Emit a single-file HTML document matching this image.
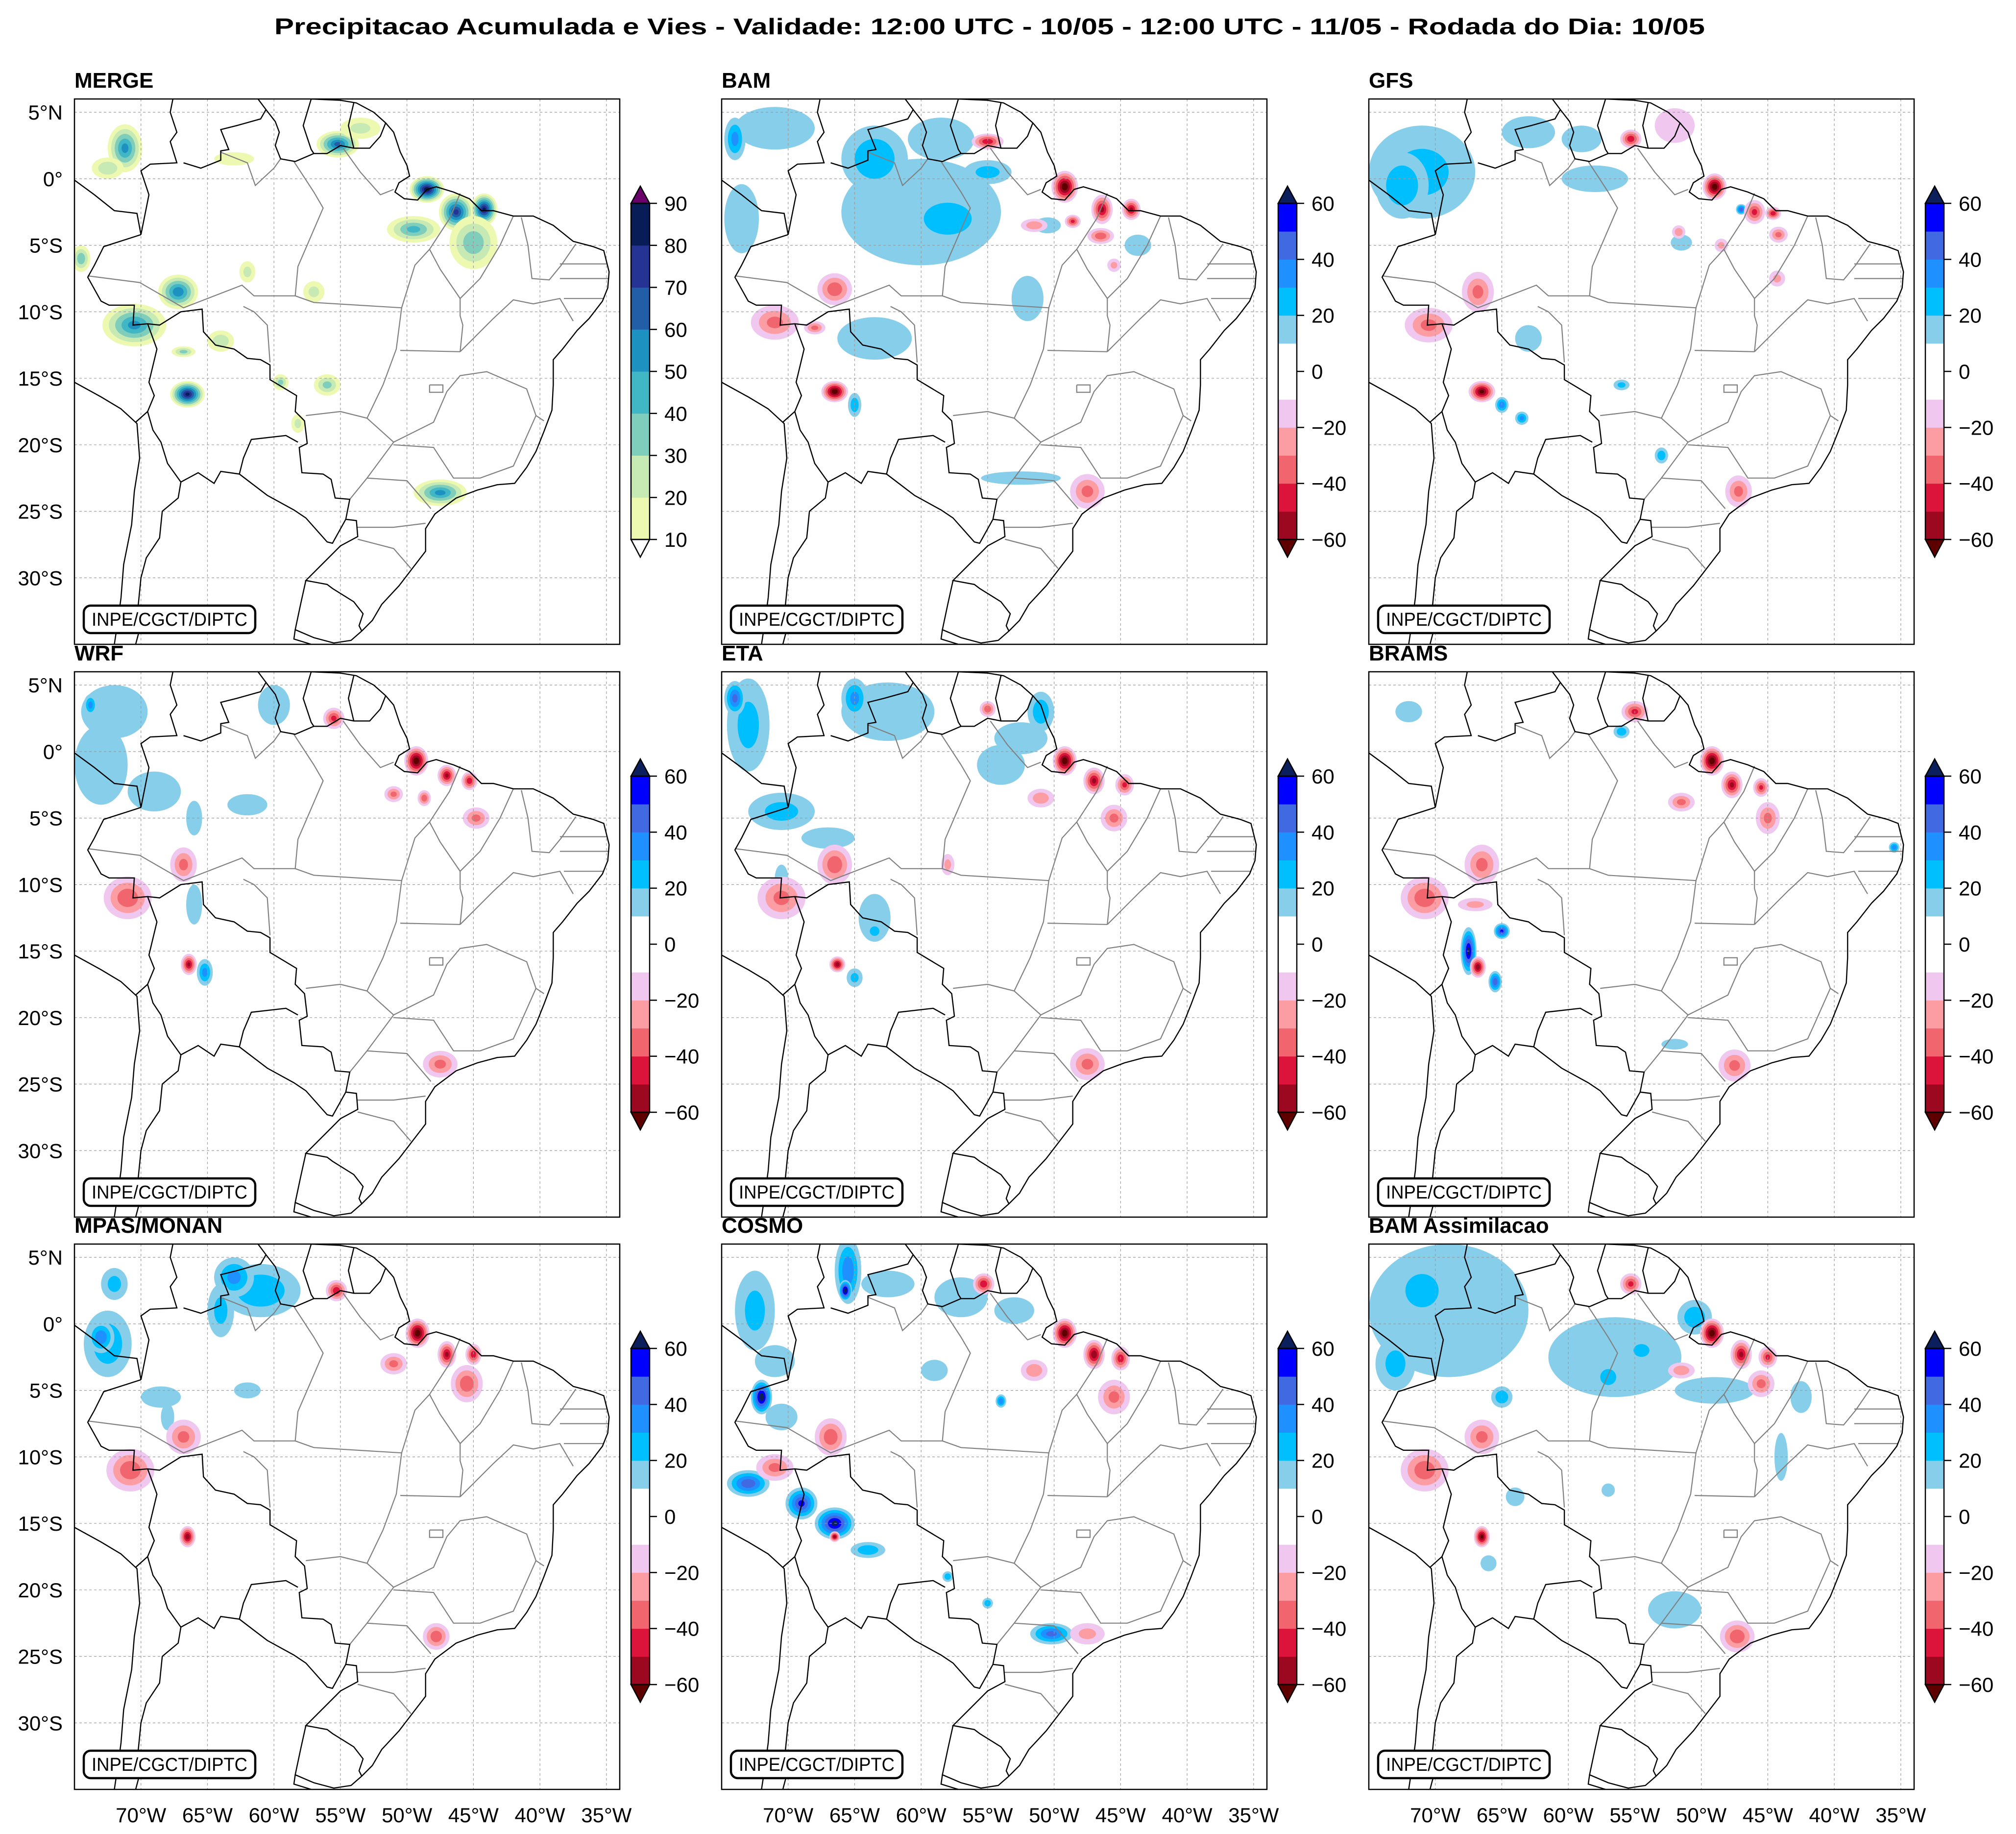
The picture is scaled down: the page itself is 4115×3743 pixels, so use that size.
<!DOCTYPE html>
<html><head><meta charset="utf-8"><style>
html,body{margin:0;padding:0;background:#fff;}
svg{display:block;font-family:"Liberation Sans",sans-serif;}
</style></head><body>
<svg id="fig" xmlns="http://www.w3.org/2000/svg" width="4115" height="3743" viewBox="0 0 4115 3743">
<rect width="4115" height="3743" fill="#fff"/>
<text x="560" y="70" font-size="46" font-weight="bold" textLength="2920" lengthAdjust="spacingAndGlyphs">Precipitacao Acumulada e Vies - Validade: 12:00 UTC - 10/05 - 12:00 UTC - 11/05 - Rodada do Dia: 10/05</text>
</svg>
<script>
// ---- data ----
const panelTitles = ["MERGE","BAM","GFS","WRF","ETA","BRAMS","MPAS/MONAN","COSMO","BAM Assimilacao"];
const lonTicks = [-70,-65,-60,-55,-50,-45,-40,-35];
const latTicks = [5,0,-5,-10,-15,-20,-25,-30];
const mergeLevels = [10,20,30,40,50,60,70,80,90];
const mergeColors = ["#edf8b1","#c7e9b4","#7fcdbb","#41b6c4","#1d91c0","#225ea8","#253494","#081d58"];
const biasTicks = [60,40,20,0,-20,-40,-60];
const biasLevels = [-60,-50,-40,-30,-20,-10,0,10,20,30,40,50,60];
const biasColors = ["#9b0820","#dc143c","#f0656e","#fc9da3","#efc7ef","#ffffff","#ffffff","#87ceeb","#00bfff","#1e90ff","#4169e1","#0000ff"];
const posColors = ["#87ceeb","#00bfff","#1e90ff","#4169e1","#0000ff","#0b1f5c"];
const negColors = ["#efc7ef","#fc9da3","#f0656e","#dc143c","#9b0820","#5f0000"];

// blobs: [lon, lat, rxDeg, ryDeg, value]
const mergeBlobs = [[-48.5,-0.8,1.3,1.0,85],[-46.3,-2.5,1.3,1.4,70],[-44.2,-2.3,1.0,1.2,80],[-45,-4.8,1.8,2.0,35],[-49.5,-3.8,2,1,40],[-55.2,2.6,1.6,1.0,60],[-53.5,3.8,1.5,0.8,20],[-71.2,2.3,1.3,1.8,50],[-72.5,0.8,1.2,0.8,25],[-70.5,-11,2.4,1.6,50],[-67.2,-8.5,1.5,1.3,55],[-74.5,-6,0.7,1,35],[-66.5,-16.2,1.3,1.0,80],[-47.5,-23.6,2,1.0,50],[-56,-15.5,1,0.8,30],[-59.5,-15.3,0.6,0.6,30],[-58.2,-18.4,0.5,0.7,20],[-62,-7,0.6,0.8,20],[-63,1.5,1.5,0.5,15],[-57,-8.5,0.8,0.8,20],[-64,-12.2,1,0.8,25],[-66.8,-13,0.9,0.4,30]];
const bamBlobs = [[-60,-2.5,6,4,15],[-58,-3,3,2,25],[-63.5,1.5,2.5,2.5,25],[-58.5,3,2.5,1.6,15],[-71,3.8,3,1.6,15],[-74,3,0.8,1.6,30],[-73.5,-3,1.3,2.6,15],[-63.5,-12,2.8,1.6,15],[-52,-9,1.2,1.7,15],[-52.5,-22.5,3,0.5,15],[-65,-17,0.5,0.9,25],[-55,0.5,1.8,0.9,20],[-50.5,-3.5,1,0.6,15],[-43.7,-5,1,0.8,15],
 [-55,2.8,1.2,0.6,-45],[-49.2,-0.6,1,1.2,-65],[-46.4,-2.3,0.8,1.1,-50],[-44.2,-2.3,0.7,0.8,-50],[-48.6,-3.2,0.6,0.5,-40],[-51.5,-3.5,1,0.5,-25],[-46.5,-4.3,1,0.6,-35],[-66.5,-16,1.0,0.8,-65],[-66.5,-8.3,1.3,1.2,-35],[-71,-10.8,1.8,1.3,-30],[-68,-11.2,0.8,0.5,-30],[-47.5,-23.5,1.3,1.3,-30],[-45.5,-6.5,0.5,0.5,-20]];
const gfsBlobs = [[-71,0.5,4,3.5,20],[-72.5,-0.5,2,2.5,25],[-63,3.5,2,1.2,15],[-59,3,1.5,1,15],[-58,0,2.5,1,15],[-65,-17,0.5,0.6,35],[-63.5,-18,0.5,0.5,30],[-63,-12,1,1,15],[-53,-20.8,0.5,0.6,25],[-56,-15.5,0.6,0.4,20],[-47,-2.3,0.4,0.4,45],[-51.5,-4.8,0.8,0.6,15],
 [-55.3,3,0.8,0.7,-45],[-49,-0.6,0.9,1,-65],[-46,-2.5,0.8,0.9,-40],[-44.6,-2.6,0.6,0.5,-45],[-44.2,-4.2,0.7,0.6,-30],[-66.5,-16,1,0.8,-60],[-66.8,-8.5,1.2,1.5,-30],[-70.5,-11,1.8,1.3,-30],[-47.2,-23.5,1,1.2,-30],[-48.5,-5,0.5,0.5,-20],[-51.7,-4,0.5,0.5,-25],[-44.3,-7.5,0.6,0.6,-20],[-52,4,1.5,1.3,-15]];
const wrfBlobs = [[-72,3,2.5,2,15],[-73,-1,2,3,15],[-69,-3,2,1.5,15],[-60,3.5,1.2,1.5,15],[-73.8,3.5,0.5,0.8,30],[-65.2,-16.6,0.6,1.0,30],[-66,-11.5,0.6,1.5,15],[-62,-4,1.5,0.8,15],[-66,-5,0.6,1.3,15],
 [-55.5,2.5,0.8,0.8,-40],[-49.3,-0.7,0.9,1.1,-65],[-47,-1.8,0.7,0.8,-50],[-45.3,-2.2,0.6,0.7,-45],[-51,-3.2,0.7,0.6,-30],[-44.8,-5,1,0.8,-30],[-66.8,-8.5,1,1.3,-30],[-71,-11,1.8,1.6,-35],[-66.4,-16,0.6,0.8,-50],[-47.5,-23.5,1.3,1.0,-30],[-48.7,-3.5,0.5,0.6,-35]];
const etaBlobs = [[-62.5,3,3.5,2.2,15],[-65,4,1,1.5,30],[-73,2,1.6,3.5,20],[-74,4,0.8,1.3,40],[-52.5,1,2,1.2,15],[-54,-1,1.8,1.5,15],[-51,3,1,1.5,25],[-70.5,-4.5,2.5,1.4,20],[-67,-6.5,2,0.8,15],[-63.5,-12.5,1.2,1.8,15],[-63.5,-13.5,0.6,0.6,25],[-65,-17,0.6,0.7,20],[-70.5,-9.5,0.5,1,15],
 [-55,3.2,0.6,0.6,-35],[-49.2,-0.7,0.9,1.1,-65],[-47,-2.2,0.8,1,-50],[-44.7,-2.5,0.7,0.8,-40],[-45.5,-5,1,1,-30],[-51,-3.5,1,0.7,-25],[-66.5,-8.5,1.3,1.5,-35],[-70.5,-11,1.8,1.6,-30],[-66.3,-16,0.6,0.6,-55],[-47.5,-23.5,1.3,1.2,-30],[-58,-8.5,0.5,0.8,-20]];
const bramsBlobs = [[-67.5,-15,0.6,1.8,60],[-65,-13.5,0.6,0.6,50],[-65.5,-17.3,0.5,0.8,45],[-47.4,-2.3,0.4,0.4,60],[-35.5,-7.2,0.4,0.4,35],[-56,1.5,0.6,0.5,25],[-72,3,1,0.8,15],[-52,-22,1,0.4,15],
 [-55,3,1,0.8,-40],[-49.2,-0.7,0.9,1.1,-65],[-47.7,-2.5,0.8,1,-50],[-45.5,-2.7,0.6,0.7,-40],[-45,-5,0.9,1.2,-30],[-51.5,-3.8,1,0.7,-30],[-66.5,-8.5,1.3,1.5,-30],[-70.8,-11,1.8,1.6,-35],[-66.8,-16.2,0.6,0.8,-55],[-47.5,-23.6,1.2,1.2,-30],[-67,-11.5,1.3,0.5,-20]];
const mpasBlobs = [[-61,2.5,3,2,25],[-63,3.5,1.5,1.5,30],[-64,1,1,2,20],[-72.5,-1.5,1.8,2.5,25],[-73,-1,1,1.2,35],[-68.5,-5.5,1.5,0.8,15],[-68,-7,0.5,1,15],[-62,-5,1,0.6,15],[-72,3,1,1.2,20],
 [-55.3,2.5,0.8,0.8,-45],[-49.2,-0.7,0.9,1.1,-65],[-47,-2.3,0.7,1.0,-50],[-45,-2.3,0.6,0.8,-45],[-45.5,-4.5,1.2,1.4,-35],[-51,-3,1,0.8,-30],[-66.8,-8.5,1.3,1.3,-30],[-70.8,-11,1.8,1.6,-35],[-66.5,-16,0.6,0.8,-55],[-47.8,-23.5,1,1.0,-35]];
const cosmoBlobs = [[-65.5,4,1,2.5,35],[-65.7,2.5,0.5,0.8,65],[-72.5,1,1.5,3,20],[-71,-2.8,1.5,1.2,15],[-72,-5.5,0.8,1.3,65],[-70.5,-7,1.2,1,15],[-73,-12,1.6,1,45],[-69,-13.5,1.2,1.2,50],[-66.5,-15,1.5,1.2,60],[-64,-17,1.3,0.6,25],[-58,-19,0.4,0.4,25],[-55,-21,0.4,0.4,25],[-50.2,-23.3,1.6,0.8,40],[-62.5,3,2,1,15],[-57,2,2,1.5,15],[-53,1,1.5,1,15],[-59,-3.5,1,0.8,15],[-54,-5.8,0.4,0.5,35],
 [-55.3,3,0.8,0.8,-45],[-49.2,-0.7,0.9,1.1,-65],[-47,-2.3,0.8,1.1,-55],[-45,-2.6,0.7,0.9,-45],[-45.5,-5.5,1.2,1.3,-30],[-51.5,-3.5,1,0.8,-25],[-66.8,-8.5,1.2,1.4,-35],[-71,-10.8,1.4,1,-30],[-66.5,-16,0.4,0.4,-55],[-47.5,-23.3,1.3,0.8,-20]];
const bamAssimBlobs = [[-69,1,6,5,15],[-71,2.5,2.5,2.5,20],[-73,-3,1.5,2,20],[-56.5,-2.5,5,3,15],[-57,-4,1,1,25],[-54.5,-2,1,0.8,25],[-50.5,0.5,1.3,1.3,25],[-49,-5,3,1,15],[-52,-21.5,2,1.4,15],[-42.5,-5.5,0.8,1.2,15],[-44,-10,0.5,1.8,15],[-65,-5.5,0.8,0.8,25],[-64,-13,0.7,0.7,15],[-66,-18,0.6,0.6,15],[-57,-12.5,0.5,0.5,15],
 [-55.3,3,0.8,0.8,-40],[-49.2,-0.7,0.9,1.1,-65],[-47,-2.3,0.8,1.1,-50],[-45,-2.5,0.7,0.8,-40],[-45.5,-4.5,1,1,-30],[-51.5,-3.5,1,0.6,-25],[-66.5,-8.5,1.3,1.3,-30],[-70.8,-11,1.8,1.6,-35],[-66.5,-16,0.6,0.8,-60],[-47.3,-23.5,1.3,1.2,-35]];
const panelBlobs = [mergeBlobs,bamBlobs,gfsBlobs,wrfBlobs,etaBlobs,bramsBlobs,mpasBlobs,cosmoBlobs,bamAssimBlobs];

// geography (lon,lat)
const coastLines = [
 [[-57.2,6],[-55,5.9],[-53.8,5.7],[-52.5,5],[-51.6,4.2],[-51,3.5],[-50.5,2],[-50,1],[-49.8,0.2],[-50.6,-0.3],[-50.9,-1],[-50.2,-1.5],[-49.2,-1.6],[-48.5,-0.8],[-47.8,-0.6],[-46.5,-1],[-45.3,-1.5],[-44.4,-2.4],[-43.5,-2.4],[-42,-2.8],[-40.5,-2.8],[-39,-3.5],[-37.5,-4.7],[-36,-5.1],[-35.2,-5.4],[-34.8,-7],[-34.9,-8.2],[-35.3,-9.2],[-36.3,-10.5],[-37.2,-11.4],[-38.3,-12.8],[-39,-13.6],[-39,-15.5],[-39.1,-17.4],[-39.7,-19],[-40.3,-20.5],[-41,-21.7],[-41.9,-22.9],[-43.2,-23],[-44.7,-23.4],[-46.3,-24],[-47.9,-25.2],[-48.6,-26.3],[-48.6,-28],[-49.6,-29.3],[-50.6,-30.6],[-51.9,-32],[-52.6,-33.2],[-53.4,-34],[-54.2,-34.7],[-55.5,-34.9],[-57,-34.5],[-58.4,-33.9],[-58.5,-34.6],[-57.2,-35]],
 [[-75,-15.3],[-73,-16.4],[-71.5,-17.3],[-70.3,-18.4],[-70.1,-21],[-70.5,-23.5],[-70.7,-26],[-71.3,-29],[-71.5,-31.5],[-71.7,-33],[-72,-35]]
];
const countryLines = [
 [[-75,-0.1],[-73.5,-1.2],[-72,-2.4],[-70.3,-2.6],[-70,-4.2]],
 [[-70,-4.2],[-69.4,-1.2],[-69.6,-0.6],[-70,0.6],[-69.3,1.1],[-67.3,1.2],[-67.8,2.8],[-67.3,3.5],[-67.8,5],[-67.6,6]],
 [[-66.8,1.2],[-65.5,0.8],[-64,1.4],[-64,2.1],[-63.4,2.2],[-64,3.7],[-62.8,4],[-61,4.5],[-60.6,5.2],[-61.2,6]],
 [[-60.6,5.2],[-59.9,4.3],[-59.6,3.5],[-59.9,2.5],[-59.5,1.5],[-58.4,1.3],[-57,1.9],[-56,1.9],[-55,2.5],[-54,2.3],[-52.8,2.3],[-52,3.2],[-51.6,4.2]],
 [[-57.2,6],[-57.8,4],[-57.2,2.2],[-57,1.9]],
 [[-54,5.7],[-54.4,4],[-54,2.3]],
 [[-70,-4.2],[-72.8,-5.1],[-73.5,-6.5],[-74,-7.4],[-73,-9.2],[-72.4,-9.5],[-70.5,-9.5],[-70.6,-11],[-69.5,-10.9],[-68.6,-11],[-67,-10],[-65.4,-9.8],[-65.3,-11.5],[-64.4,-12.5],[-63,-12.8],[-62,-13.5],[-61,-13.6],[-60.3,-14],[-60.3,-15.1],[-58.3,-16.3],[-58.4,-17.5],[-57.7,-18.2],[-57.5,-19.9],[-58.1,-20.2],[-57.9,-22.1],[-56.3,-22.2],[-55.7,-22.6],[-55.4,-24],[-54.3,-24.1],[-54.6,-25.6],[-53.8,-25.7],[-53.7,-26.9],[-55,-27.6],[-56.1,-28.7],[-57.6,-30.2],[-56,-30.5],[-55.6,-30.8],[-54,-31.8],[-53.3,-32.7],[-53.6,-33.6],[-53.4,-34]],
 [[-58.2,-19.8],[-59.1,-19.3],[-61.7,-19.6],[-62.3,-21],[-62.6,-22.2],[-64,-22],[-64.5,-22.9],[-65.7,-22.1],[-67,-22.8],[-68,-21.4],[-68.5,-19.8],[-69.1,-18.9],[-69.5,-17.5],[-69,-16.3],[-69.4,-15.3],[-68.8,-12.8],[-69.5,-10.9]],
 [[-69.5,-17.5],[-70.4,-18.3]],
 [[-67,-22.8],[-67.2,-24],[-68.4,-25],[-68.6,-27],[-69.6,-28.5],[-70,-30],[-70.2,-32],[-70,-33.5],[-70.4,-35]],
 [[-62.6,-22.2],[-60.5,-23.8],[-58.5,-24.9],[-57.6,-25.5],[-56,-27.3],[-55.6,-27.4],[-54.6,-25.6]],
 [[-57.6,-30.2],[-58,-32],[-58.4,-33.9]]
];
const stateLines = [
 [[-74,-7.3],[-70.1,-7.8],[-66.8,-9.7],[-62.4,-8],[-61.5,-8.8],[-58.4,-8.8],[-58.2,-6.6],[-56.3,-2.2],[-57,-1],[-58.5,1.3]],
 [[-58.4,-8.8],[-57,-9.3],[-50.4,-9.7]],
 [[-64,2],[-62,1.2],[-61.4,-0.5],[-60,0.8],[-59.5,1.5]],
 [[-54.8,2.3],[-53.5,0.5],[-52,-1.2],[-51,-0.8]],
 [[-50.4,-9.7],[-49.4,-6.5],[-48.3,-5.3],[-47.5,-6.8],[-46,-9],[-46,-10.3],[-45.8,-11],[-46,-13]],
 [[-46,-1.1],[-46.8,-3],[-48.3,-5.3]],
 [[-42,-2.8],[-43,-5],[-44.5,-7.5],[-46,-9]],
 [[-50.5,-12.9],[-46,-13]],
 [[-50.4,-9.7],[-50.8,-12.8],[-51.8,-15.5],[-53,-18],[-55,-17.5],[-57.6,-17.8]],
 [[-60.3,-13.8],[-60.5,-11],[-61.5,-10],[-62.3,-9.6]],
 [[-53,-18],[-51,-19.8],[-53,-22.5],[-54.3,-24.1]],
 [[-53,-22.5],[-50,-22.7],[-48.2,-24.8]],
 [[-53.8,-26.2],[-51,-26.2],[-48.6,-25.9]],
 [[-53.7,-27.1],[-51,-27.8],[-49.7,-29.3]],
 [[-51,-20],[-48,-20.2],[-46.5,-22.5],[-44.5,-22.5],[-42,-21.6],[-41.5,-20.5],[-40.3,-17.8],[-39.7,-18.2]],
 [[-51,-19.8],[-48,-18.3],[-47,-16],[-46,-14.8],[-44,-14.5],[-41,-15.8],[-40.3,-17.8]],
 [[-46,-13],[-43.5,-10.5],[-42,-9.1],[-40.5,-9.4],[-38.5,-9],[-37.5,-10.7]],
 [[-41.4,-2.9],[-40.9,-5],[-40.6,-7.5],[-39.3,-7.6],[-38.4,-6.5],[-37.3,-4.9]],
 [[-38.5,-7.5],[-36.5,-7.5],[-34.8,-7.5]],
 [[-38.2,-9],[-36,-9],[-35.2,-9]],
 [[-38.5,-6.4],[-35,-6.4]],
 [[-48.3,-15.5],[-47.3,-15.5],[-47.3,-16.05],[-48.3,-16.05],[-48.3,-15.5]]
];

// ---- layout ----
const NS = "http://www.w3.org/2000/svg";
const svg = document.getElementById("fig");
const colX = [152,1473,2794], rowY = [202,1371,2539], S = 1113;
const LON0=-75, LON1=-34, LAT0=-35, LAT1=6;
const K = S/(LON1-LON0);
function mk(tag, attrs, parent){const e=document.createElementNS(NS,tag);for(const k in attrs)e.setAttribute(k,attrs[k]);(parent||svg).appendChild(e);return e;}
function px(x0,lon){return x0+(lon-LON0)*K;}
function py(y0,lat){return y0+(LAT1-lat)*K;}
function pathOf(lines,x0,y0){return lines.map(l=>"M"+l.map(p=>px(x0,p[0]).toFixed(1)+","+py(y0,p[1]).toFixed(1)).join("L")).join("");}

panelTitles.forEach((title,i)=>{
  const x0=colX[i%3], y0=rowY[Math.floor(i/3)];
  const isMerge = i===0;
  const g = mk("g",{});
  
  
  const cp = mk("clipPath",{id:"clip"+i},g);
  mk("rect",{x:x0,y:y0,width:S,height:S},cp);
  const t = mk("text",{x:x0,y:y0-23,"font-size":44,"font-weight":"bold"},g);
  t.textContent = title;
  
  
  const inner = mk("g",{"clip-path":"url(#clip"+i+")"},g);
  const blobG = mk("g",{},inner);
  
  
  panelBlobs[i].forEach(b=>{
    const [lon,lat,rx,ry,v]=b;
    const mag=Math.abs(v);
    const cols = isMerge ? mergeColors : (v>0?posColors:negColors);
    for(let L=10, j=0; L<=mag && j<cols.length; L+=10, j++){
      const f = 1-(L-10)/(mag);
      const el = mk("ellipse",{cx:px(x0,lon),cy:py(y0,lat),rx:rx*K*f,ry:ry*K*f,fill:cols[j]},blobG);
      
      
    }
  });
  const grid = mk("g",{stroke:"#9a9a9a","stroke-width":1.2,"stroke-dasharray":"5,5",fill:"none"},inner);
  
  
  lonTicks.forEach(lon=>mk("line",{x1:px(x0,lon),x2:px(x0,lon),y1:y0,y2:y0+S},grid));
  latTicks.forEach(lat=>mk("line",{x1:x0,x2:x0+S,y1:py(y0,lat),y2:py(y0,lat)},grid));
  const st = mk("path",{d:pathOf(stateLines,x0,y0),stroke:"#808080","stroke-width":2.2,fill:"none"},inner);
  
  
  const cb = mk("path",{d:pathOf(countryLines,x0,y0),stroke:"#000","stroke-width":2.4,fill:"none"},inner);
  
  
  const co = mk("path",{d:pathOf(coastLines,x0,y0),stroke:"#000","stroke-width":2.4,fill:"none"},inner);
  
  
  const fr = mk("rect",{x:x0,y:y0,width:S,height:S,fill:"none",stroke:"#000","stroke-width":2.5},g);
  
  
  const bx = mk("rect",{x:x0+19,y:y0+1034,width:350,height:56,rx:14,fill:"#fff",stroke:"#000","stroke-width":4.5},g);
  
  
  const bt = mk("text",{x:x0+194,y:y0+1075,"font-size":38,"text-anchor":"middle",textLength:318,lengthAdjust:"spacingAndGlyphs"},g);
  bt.textContent="INPE/CGCT/DIPTC";
  
  
  if(i%3===0){
    latTicks.forEach(lat=>{
      const tl = mk("text",{x:x0-24,y:py(y0,lat)+15,"font-size":42,"text-anchor":"end"},g);
      tl.textContent = lat>0?lat+"°N":(lat===0?"0°":(-lat)+"°S");
      
      
    });
  }
  if(i>=6){
    lonTicks.forEach(lon=>{
      const tl = mk("text",{x:px(x0,lon),y:y0+S+67,"font-size":42,"text-anchor":"middle"},g);
      tl.textContent = (-lon)+"°W";
      
      
    });
  }
  const cx = x0+1136, cw=38, ct=y0+213, cbm=y0+899, H=cbm-ct;
  const cg = mk("g",{},g);
  
  
  let levels, colors, ticks, topTri, botTri;
  if(isMerge){levels=mergeLevels;colors=mergeColors;ticks=mergeLevels;topTri="#6a006a";botTri="#ffffff";}
  else{levels=biasLevels;colors=biasColors;ticks=biasTicks;topTri="#0b1f5c";botTri="#5f0000";}
  const vmin=levels[0], vmax=levels[levels.length-1];
  const vy = v=> cbm-(v-vmin)/(vmax-vmin)*H;
  colors.forEach((c,j)=>{
    const r = mk("rect",{x:cx,y:vy(levels[j+1]),width:cw,height:vy(levels[j])-vy(levels[j+1])+0.5,fill:c},cg);
    
    
  });
  mk("path",{d:`M${cx},${ct}L${cx+cw/2},${ct-35}L${cx+cw},${ct}Z`,fill:topTri,stroke:"#000","stroke-width":2.5},cg);
  mk("path",{d:`M${cx},${cbm}L${cx+cw/2},${cbm+36}L${cx+cw},${cbm}Z`,fill:botTri,stroke:"#000","stroke-width":2.5},cg);
  mk("rect",{x:cx,y:ct,width:cw,height:H,fill:"none",stroke:"#000","stroke-width":2.5},cg);
  ticks.forEach(v=>{
    mk("line",{x1:cx+cw,x2:cx+cw+15,y1:vy(v),y2:vy(v),stroke:"#000","stroke-width":2.5},cg);
    const tl = mk("text",{x:cx+cw+30,y:vy(v)+15,"font-size":42},cg);
    tl.textContent = v<0?"\u2212"+(-v):String(v);
    
    
  });
});
</script>
</body></html>
